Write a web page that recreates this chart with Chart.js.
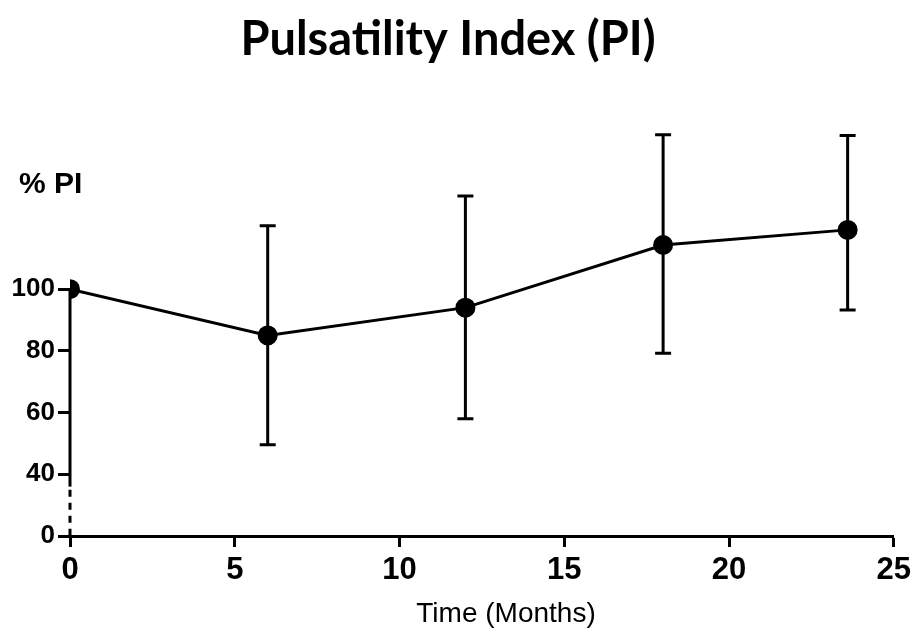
<!DOCTYPE html>
<html>
<head>
<meta charset="utf-8">
<script src="https://cdn.jsdelivr.net/npm/chart.js@4/dist/chart.umd.min.js"></script>
<style>
  html, body { margin: 0; padding: 0; background: #fff; }
  #wrap { width: 916px; height: 637px; }
</style>
</head>
<body>
<div id="wrap"><canvas id="chart" width="916" height="637"></canvas></div>
<script>
// data
const months = [0, 6, 12, 18, 23.6];
const meanPI = [100, 85, 94, 114.3, 119.2];
const errHigh = [null, 120.5, 130.2, 150, 149.8];
const errLow = [null, 49.6, 58, 79.2, 93.2];

// y axis is broken: the "0" label sits where 20 would be
const yTickValues = [20, 40, 60, 80, 100];
const yTickLabels = ['0', '40', '60', '80', '100'];
const xTickValues = [0, 5, 10, 15, 20, 25];

const points = months.map((m, i) => ({ x: m, y: meanPI[i] }));

// error bars + broken y axis + axis labels
const extras = {
    id: 'extras',
    afterDatasetsDraw(chart) {
        const ctx = chart.ctx;
        const xs = chart.scales.x;
        const ys = chart.scales.y;
        ctx.save();
        ctx.strokeStyle = '#000';
        ctx.lineWidth = 3;
        ctx.lineCap = 'butt';

        // y axis line: solid from 100 down, dashed near the break
        const ax = xs.getPixelForValue(0);
        ctx.beginPath();
        ctx.moveTo(ax, ys.getPixelForValue(100));
        ctx.lineTo(ax, ys.getPixelForValue(36));
        ctx.stroke();
        ctx.setLineDash([7, 6]);
        ctx.beginPath();
        ctx.moveTo(ax, ys.getPixelForValue(35));
        ctx.lineTo(ax, ys.getPixelForValue(20));
        ctx.stroke();
        ctx.setLineDash([]);

        // error bars
        months.forEach((m, i) => {
            if (errHigh[i] == null) return;
            const px = xs.getPixelForValue(m);
            const top = ys.getPixelForValue(errHigh[i]);
            const bot = ys.getPixelForValue(errLow[i]);
            ctx.beginPath();
            ctx.moveTo(px, top);
            ctx.lineTo(px, bot);
            ctx.moveTo(px - 8, top);
            ctx.lineTo(px + 8, top);
            ctx.moveTo(px - 8, bot);
            ctx.lineTo(px + 8, bot);
            ctx.stroke();
        });

        // axis labels
        ctx.fillStyle = '#000';
        ctx.textBaseline = 'middle';
        ctx.textAlign = 'left';
        ctx.font = 'bold 30px "Liberation Sans", Arial, sans-serif';
        ctx.fillText('% PI', 19, 185);
        ctx.textAlign = 'center';
        ctx.font = '28px "Liberation Sans", Arial, sans-serif';
        ctx.fillText('Time (Months)', 506, 614);
        ctx.restore();
    }
};

const ctx = document.getElementById('chart').getContext('2d');
const myChart = new Chart(ctx, {
    type: 'scatter',
    data: {
        datasets: [{
            label: 'PI',
            data: points,
            showLine: true,
            borderColor: '#000',
            backgroundColor: '#000',
            borderWidth: 3,
            pointRadius: 8.5,
            pointHoverRadius: 8.5
        }]
    },
    options: {
        responsive: false,
        animation: false,
        layout: { padding: { left: 0, right: 20, top: 0, bottom: 0 } },
        plugins: {
            legend: { display: false },
            tooltip: { enabled: false },
            title: {
                display: true,
                text: 'Pulsatility Index (PI)',
                color: '#000',
                font: { family: 'Lato, "Open Sans", sans-serif', size: 47, weight: 'bold', lineHeight: 1.2 },
                padding: { top: 12, bottom: 51 }
            }
        },
        scales: {
            x: {
                type: 'linear',
                min: 0,
                max: 25,
                afterBuildTicks: s => { s.ticks = xTickValues.map(v => ({ value: v })); },
                afterFit: s => { s.height = 101; },
                border: { display: true, color: '#000', width: 3 },
                grid: { drawOnChartArea: false, drawTicks: true, tickLength: 11, tickWidth: 3, tickColor: '#000' },
                ticks: {
                    color: '#000',
                    padding: 5,
                    font: { family: '"Liberation Sans", Arial, sans-serif', size: 31, weight: 'bold' }
                }
            },
            y: {
                min: 20,
                max: 155,
                afterBuildTicks: s => { s.ticks = yTickValues.map(v => ({ value: v })); },
                afterFit: s => { s.width = 70; },
                border: { display: false },
                grid: { drawOnChartArea: false, drawTicks: true, tickLength: 12, tickWidth: 3, tickColor: '#000' },
                ticks: {
                    color: '#000',
                    padding: 3,
                    font: { family: '"Liberation Sans", Arial, sans-serif', size: 26, weight: 'bold' },
                    callback: v => yTickLabels[yTickValues.indexOf(v)]
                }
            }
        }
    },
    plugins: [extras]
});
</script>
</body>
</html>
